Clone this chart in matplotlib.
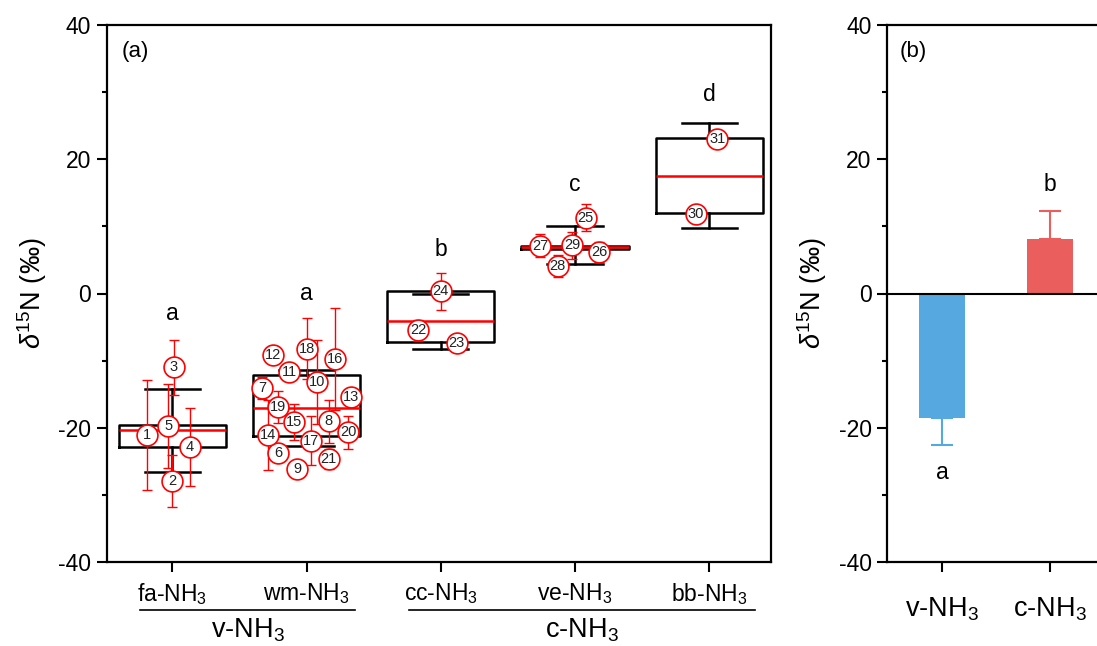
import numpy as np
import matplotlib.pyplot as plt
from matplotlib import transforms
from matplotlib.ticker import MultipleLocator

plt.rcParams['font.family'] = ['Liberation Sans', 'DejaVu Sans']
plt.rcParams['mathtext.fontset'] = 'custom'
plt.rcParams['mathtext.rm'] = 'Liberation Sans'
plt.rcParams['mathtext.it'] = 'Liberation Sans:italic'
plt.rcParams['mathtext.bf'] = 'Liberation Sans:bold'
plt.rcParams['axes.unicode_minus'] = False

# sources and their groups
sources = ['fa-NH$_3$', 'wm-NH$_3$', 'cc-NH$_3$', 've-NH$_3$', 'bb-NH$_3$']
groups = ['v-NH$_3$', 'c-NH$_3$']
letters_a = ['a', 'a', 'b', 'c', 'd']
letters_a_y = [-3.0, 0.0, 6.5, 16.2, 29.6]

# box statistics of each source
q1 = [-22.8, -21.3, -7.2, 6.6, 11.95]
med = [-20.3, -17.1, -4.1, 7.0, 17.5]
q3 = [-19.6, -12.2, 0.4, 7.1, 23.1]
whis_lo = [-26.6, -22.7, -8.2, 4.4, 9.7]
whis_hi = [-14.3, -11.4, 0.0, 10.0, 25.45]

# single samples 1..31: source index, mean, sd, spread inside the box
sample_src = [0]*5 + [1]*16 + [2]*3 + [3]*5 + [4]*2
sample_mean = [-21.1, -27.9, -11.0, -22.9, -19.75,
               -23.7, -14.1, -19.0, -26.2, -13.2, -11.65, -9.2, -15.4,
               -21.1, -19.1, -9.7, -21.9, -8.2, -16.9, -20.7, -24.7,
               -5.5, -7.3, 0.3,
               11.3, 6.2, 7.1, 4.1, 7.2,
               11.85, 23.0]
sample_sd = [8.2, 3.9, 4.05, 5.85, 6.2,
             1.2, 1.6, 3.2, 1.0, 6.3, 1.0, 0.5, 0.5,
             5.2, 2.7, 7.6, 3.7, 4.6, 2.4, 2.4, 1.5,
             1.6, 0.5, 2.8,
             2.0, 1.5, 1.7, 1.6, 2.0,
             0.4, 0.4]
sample_dx = [-0.19, 0.0, 0.01, 0.13, -0.03,
             -0.21, -0.33, 0.165, -0.07, 0.08, -0.13, -0.25, 0.33,
             -0.29, -0.09, 0.21, 0.03, 0.0, -0.21, 0.31, 0.165,
             -0.17, 0.12, 0.0,
             0.08, 0.18, -0.26, -0.13, -0.02,
             -0.10, 0.06]

# group means for panel (b)
grp_mean = [-18.5, 8.1]
grp_err = [4.1, 4.2]
grp_colors = ['#56A8E0', '#EB5E5E']
letters_b = ['a', 'b']
letters_b_y = [-26.7, 16.2]

fig = plt.figure(figsize=(10.97, 6.46), dpi=100)
ax = fig.add_axes([106.5/1097, 84/646, 664.5/1097, 537/646])
ax2 = fig.add_axes([887/1097, 84/646, 217/1097, 537/646])

pos = np.arange(1, len(sources) + 1)

# ---- panel (a): box plots with the single samples
stats = []
for i in range(len(sources)):
    stats.append(dict(med=med[i], q1=q1[i], q3=q3[i],
                      whislo=whis_lo[i], whishi=whis_hi[i], fliers=[]))
ax.bxp(stats, positions=pos, widths=0.8, capwidths=0.41, showfliers=False,
       manage_ticks=False,
       boxprops=dict(color='k', lw=1.8),
       whiskerprops=dict(color='k', lw=1.8),
       capprops=dict(color='k', lw=1.8),
       medianprops=dict(color='red', lw=1.8))

sx = pos[np.array(sample_src)] + np.array(sample_dx)
ax.errorbar(sx, sample_mean, yerr=sample_sd, fmt='none', ecolor='red',
            elinewidth=1, capsize=3.5, capthick=1, zorder=3)
ax.plot(sx, sample_mean, 'o', ms=15, mfc='white', mec='red', mew=1.2,
        zorder=4)
for k in range(len(sample_mean)):
    ax.text(sx[k], sample_mean[k], str(k + 1), ha='center', va='center',
            fontsize=10.5, color='#222222', zorder=5)

for i in range(len(sources)):
    ax.text(pos[i], letters_a_y[i], letters_a[i], ha='center', va='center',
            fontsize=16.5)

ax.set_xlim(0.51, 5.46)
ax.set_ylim(-40, 40)
ax.set_xticks(pos)
ax.set_xticklabels(sources)
ax.tick_params(axis='x', labelsize=16.5, pad=7)
ax.text(0.023, 0.95, '(a)', transform=ax.transAxes, fontsize=16,
        va='center')

# group brackets under the source names
trans = transforms.blended_transform_factory(ax.transData, ax.transAxes)
grp_span = [(0.763, 2.362), (2.763, 5.338)]
for (x0, x1), g in zip(grp_span, groups):
    ax.plot([x0, x1], [-0.0894, -0.0894], color='k', lw=1.2,
            transform=trans, clip_on=False)
    ax.text((x0 + x1) / 2, -0.14, g, transform=trans, ha='center',
            va='baseline', fontsize=19.5)

# ---- panel (b): group means
bpos = np.arange(1, len(grp_mean) + 1)
ax2.bar(bpos, grp_mean, width=0.42, color=grp_colors, zorder=2)
for i in range(len(grp_mean)):
    lo = [grp_err[i]] if grp_mean[i] < 0 else [0]
    hi = [grp_err[i]] if grp_mean[i] > 0 else [0]
    ax2.errorbar(bpos[i], grp_mean[i], yerr=[lo, hi], fmt='none',
                 ecolor=grp_colors[i], elinewidth=1.5, capsize=8,
                 capthick=1.5, zorder=3)
    ax2.text(bpos[i], letters_b_y[i], letters_b[i], ha='center',
             va='center', fontsize=16.5)
ax2.axhline(0, color='k', lw=1.5, zorder=4)
ax2.set_xlim(0.49, 2.5)
ax2.set_ylim(-40, 40)
ax2.set_xticks(bpos)
ax2.set_xticklabels(groups)
ax2.tick_params(axis='x', labelsize=19.5, pad=17)
ax2.text(0.06, 0.95, '(b)', transform=ax2.transAxes, fontsize=16,
         va='center')

for a in (ax, ax2):
    a.yaxis.set_major_locator(MultipleLocator(20))
    a.yaxis.set_minor_locator(MultipleLocator(10))
    a.tick_params(which='major', direction='out', length=7, width=1.5)
    a.tick_params(which='minor', direction='out', length=3.5, width=1.5)
    a.tick_params(axis='y', labelsize=16.5, pad=4)
    a.set_ylabel('$\\mathit{\u03b4}^{15}$N (\u2030)', fontsize=19.5,
                 labelpad=7)
    for s in a.spines.values():
        s.set_linewidth(1.6)

fig.savefig('out.png', dpi=100)
